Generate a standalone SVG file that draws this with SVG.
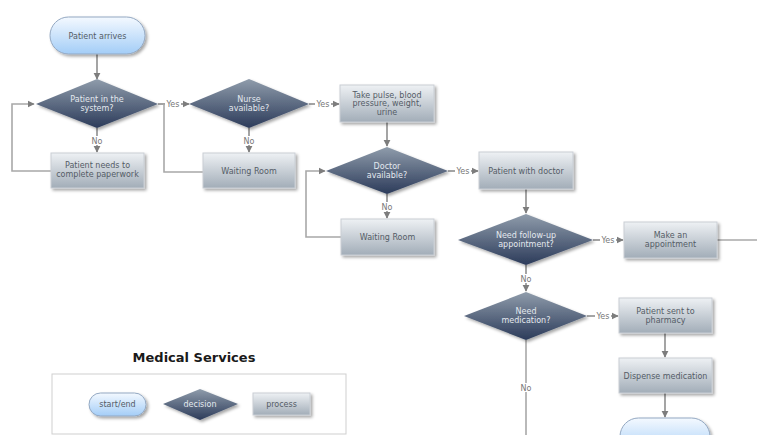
<svg xmlns="http://www.w3.org/2000/svg" width="757" height="435" viewBox="0 0 757 435">
<defs>
<linearGradient id="gProc" x1="0" y1="0" x2="0" y2="1"><stop offset="0" stop-color="#eef1f4"/><stop offset="1" stop-color="#a2adb8"/></linearGradient>
<linearGradient id="gDec" x1="0" y1="0" x2="0" y2="1"><stop offset="0" stop-color="#8f9cab"/><stop offset="1" stop-color="#2c3b5a"/></linearGradient>
<linearGradient id="gTerm" x1="0" y1="0" x2="0" y2="1"><stop offset="0" stop-color="#f4f9ff"/><stop offset="1" stop-color="#a3cdf7"/></linearGradient>
<filter id="sh" x="-20%" y="-20%" width="150%" height="160%"><feDropShadow dx="2" dy="2" stdDeviation="1.5" flood-color="#000" flood-opacity="0.35"/></filter>
<marker id="ar" viewBox="0 0 10 10" refX="9" refY="5" markerWidth="4.5" markerHeight="4.5" orient="auto"><path d="M0,0 L10,5 L0,10 z" fill="#7d7d7d"/></marker>
</defs>
<style>
.proc{fill:url(#gProc);stroke:#c9ced4;stroke-width:1;filter:url(#sh)}
.dec{fill:url(#gDec);filter:url(#sh)}
.term{fill:url(#gTerm);stroke:#93a8c2;stroke-width:1;filter:url(#sh)}
text{font-family:"DejaVu Sans",Verdana,sans-serif;font-size:8px;text-anchor:middle}
.t{fill:#545c66}
.w{fill:#e4e9ef}
.lbl{fill:#777}
.c{fill:none;stroke:#a8a8a8;stroke-width:1.6}
.ca{fill:none;stroke:#8e8e8e;stroke-width:1.6;marker-end:url(#ar)}
.lb{fill:#fff}
.title{font-size:13px;font-weight:bold;fill:#1a1a1a}
</style>
<g id="connectors">
<path class="ca" d="M97,54 V79"/>
<path class="ca" d="M97,128 V152"/>
<path class="c" d="M51,171 H12 V104 H34" style="marker-end:url(#ar)"/>
<path class="ca" d="M158,104 H189"/>
<path class="c" d="M164,104 V172 H203"/>
<path class="ca" d="M249,128 V152"/>
<path class="ca" d="M309,104 H339"/>
<path class="ca" d="M387,122 V146"/>
<path class="ca" d="M448,171 H478"/>
<path class="ca" d="M387,194 V218"/>
<path class="c" d="M341,237 H306 V171 H325" style="marker-end:url(#ar)"/>
<path class="ca" d="M526,189 V213"/>
<path class="ca" d="M593,240 H623"/>
<path class="c" d="M717,240 H757"/>
<path class="ca" d="M526,265 V291"/>
<path class="ca" d="M587,316 H618"/>
<path class="c" d="M526,340 V435"/>
<path class="ca" d="M665,333 V357"/>
<path class="ca" d="M665,393 V417"/>
<rect class="lb" x="90" y="136" width="14" height="9"/><text class="lbl" x="97" y="144">No</text>
<rect class="lb" x="165" y="100" width="16" height="9"/><text class="lbl" x="173" y="107">Yes</text>
<rect class="lb" x="242" y="136" width="14" height="9"/><text class="lbl" x="249" y="144">No</text>
<rect class="lb" x="315" y="100" width="16" height="9"/><text class="lbl" x="323" y="107">Yes</text>
<rect class="lb" x="455" y="167" width="16" height="9"/><text class="lbl" x="463" y="174">Yes</text>
<rect class="lb" x="380" y="202" width="14" height="9"/><text class="lbl" x="387" y="210">No</text>
<rect class="lb" x="600" y="236" width="16" height="9"/><text class="lbl" x="608" y="243">Yes</text>
<rect class="lb" x="519" y="274" width="14" height="9"/><text class="lbl" x="526" y="282">No</text>
<rect class="lb" x="595" y="312" width="16" height="9"/><text class="lbl" x="603" y="319">Yes</text>
<rect class="lb" x="519" y="383" width="14" height="9"/><text class="lbl" x="526" y="391">No</text>
</g>
<g id="n-arrives"><rect class="term" x="50" y="17" width="95" height="37" rx="18.5"/><text class="t" x="97.5" y="38.5">Patient arrives</text></g>
<g id="n-insystem"><polygon class="dec" points="97,79 158,104 97,128 36,104"/><text class="w" x="97" y="102">Patient in the</text><text class="w" x="97" y="111">system?</text></g>
<g id="n-paperwork"><rect class="proc" x="51" y="153" width="93" height="35"/><text class="t" x="97.5" y="168">Patient needs to</text><text class="t" x="97.5" y="177">complete paperwork</text></g>
<g id="n-nurse"><polygon class="dec" points="249,79 309,104 249,128 189,104"/><text class="w" x="249" y="102">Nurse</text><text class="w" x="249" y="111">available?</text></g>
<g id="n-wait1"><rect class="proc" x="203" y="153" width="92" height="35"/><text class="t" x="249" y="173.5">Waiting Room</text></g>
<g id="n-pulse"><rect class="proc" x="340" y="85" width="94" height="37"/><text class="t" x="387" y="97.5">Take pulse, blood</text><text class="t" x="387" y="106">pressure, weight,</text><text class="t" x="387" y="114.5">urine</text></g>
<g id="n-doctor"><polygon class="dec" points="387,147 448,171 387,194 326,171"/><text class="w" x="387" y="169">Doctor</text><text class="w" x="387" y="178">available?</text></g>
<g id="n-wait2"><rect class="proc" x="341" y="219" width="93" height="36"/><text class="t" x="387.5" y="240">Waiting Room</text></g>
<g id="n-withdoc"><rect class="proc" x="479" y="152" width="94" height="37"/><text class="t" x="526" y="173.5">Patient with doctor</text></g>
<g id="n-followup"><polygon class="dec" points="526,214 593,240 526,265 458,240"/><text class="w" x="526" y="238">Need follow-up</text><text class="w" x="526" y="247">appointment?</text></g>
<g id="n-appt"><rect class="proc" x="624" y="222" width="93" height="36"/><text class="t" x="670.5" y="238">Make an</text><text class="t" x="670.5" y="247">appointment</text></g>
<g id="n-med"><polygon class="dec" points="526,292 587,316 526,340 464,316"/><text class="w" x="526" y="314">Need</text><text class="w" x="526" y="323">medication?</text></g>
<g id="n-pharmacy"><rect class="proc" x="619" y="298" width="93" height="35"/><text class="t" x="665.5" y="314">Patient sent to</text><text class="t" x="665.5" y="323">pharmacy</text></g>
<g id="n-dispense"><rect class="proc" x="619" y="358" width="93" height="35"/><text class="t" x="665.5" y="378.5">Dispense medication</text></g>
<g id="n-end"><rect class="term" x="620" y="418" width="90" height="37" rx="18.5"/></g>
<g id="legend">
<text class="title" x="194" y="362">Medical Services</text>
<rect x="52" y="374" width="294" height="60" fill="#fff" stroke="#cfcfcf" stroke-width="1"/>
<g id="lg-term"><rect class="term" x="89" y="393" width="57" height="23" rx="11.5"/><text class="t" x="117.5" y="407">start/end</text></g>
<g id="lg-dec"><polygon class="dec" points="200,389 238,404 200,420 163,404"/><text class="w" x="200" y="407">decision</text></g>
<g id="lg-proc"><rect class="proc" x="253" y="393" width="57" height="22"/><text class="t" x="281.5" y="407">process</text></g>
</g>
</svg>
